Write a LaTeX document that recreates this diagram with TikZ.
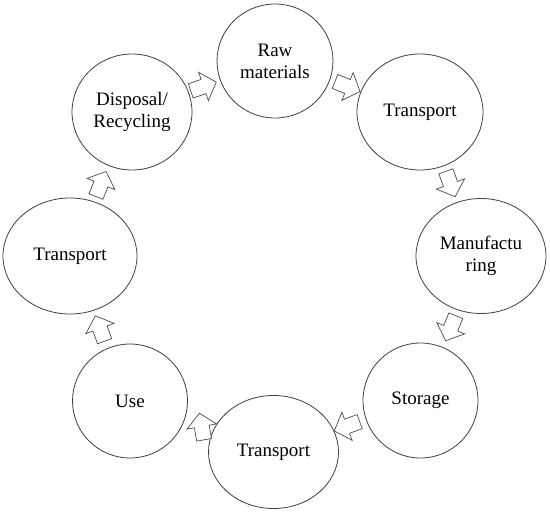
\documentclass[tikz,border=0pt]{standalone}
\usepackage{fontspec}
\setmainfont{Liberation Serif}
\usetikzlibrary{shapes.geometric,calc}
\begin{document}
\begin{tikzpicture}[x=1pt,y=-1pt,
  stage/.style={ellipse,draw=black!75,line width=0.8pt,inner sep=0pt,align=center,
    font=\fontsize{19}{22}\selectfont},
  flow/.pic={\draw[draw=black!70,line width=0.7pt,fill=white,line join=miter]
    (-13.5,-7.5) -- (0,-7.5) -- (0,-15) -- (13.5,0) -- (0,15) -- (0,7.5) -- (-13.5,7.5) -- cycle;}]
\useasboundingbox (0,0) rectangle (550,515);
\fill[white] (0,0) rectangle (550,515);
\node[stage,minimum width=116pt,minimum height=114pt] (raw) at (275,61) {Raw\\materials};
\node[stage,minimum width=126pt,minimum height=116pt] (tr1) at (420,112) {Transport};
\node[stage,minimum width=130pt,minimum height=115pt] (man) at (481,256) {Manufactu\\ring};
\node[stage,minimum width=115pt,minimum height=115pt] (sto) at (420.5,400.5) {Storage};
\node[stage,minimum width=130pt,minimum height=113pt] (tr2) at (273.5,452) {Transport};
\node[stage,minimum width=115pt,minimum height=114pt] (use) at (130,401) {Use};
\node[stage,minimum width=134pt,minimum height=116pt] (tr3) at (70,256) {Transport};
\node[stage,minimum width=120pt,minimum height=116pt] (dis) at (132,112) {Disposal/\\Recycling};
\pic[rotate=19] (a1) at ($(dis)!0.5!(raw)$) {flow};
\pic[rotate=-22] (a2) at ($(raw)!0.5!(tr1)$) {flow};
\pic[rotate=-70] (a3) at ($(tr1)!0.5!(man)$) {flow};
\pic[rotate=-112] (a4) at ($(man)!0.5!(sto)$) {flow};
\pic[rotate=-160] (a5) at ($(sto)!0.5!(tr2)$) {flow};
\pic[rotate=100] (a6) at ($(tr2)!0.5!(use)$) {flow};
\pic[rotate=110] (a7) at ($(use)!0.5!(tr3)$) {flow};
\pic[rotate=68] (a8) at ($(tr3)!0.5!(dis)$) {flow};
\end{tikzpicture}
\end{document}
